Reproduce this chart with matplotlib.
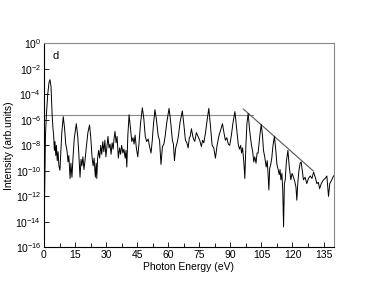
import matplotlib
import numpy as np

matplotlib.use("Agg")
import matplotlib.pyplot as plt  # noqa: E402

plt.rcParams["font.family"] = ["Liberation Sans", "DejaVu Sans"]
plt.rcParams["mathtext.fontset"] = "custom"
plt.rcParams["mathtext.rm"] = "Liberation Sans"
plt.rcParams["mathtext.it"] = "Liberation Sans:italic"
plt.rcParams["mathtext.default"] = "regular"

# photon energy (eV) and log10 intensity
energy = [
    0.0, 0.2, 0.4, 0.7, 1.2, 1.8, 2.4, 2.9, 3.4, 3.9, 4.3, 4.7, 5.0, 5.3,
    5.7, 6.0, 6.4, 6.8, 7.2, 7.7, 8.1, 8.6, 9.3, 9.9, 10.5, 11.1, 11.6,
    12.0, 12.6, 13.0, 13.5, 14.0, 14.6, 15.6, 16.3, 16.8, 17.4, 17.9, 18.3,
    18.8, 19.3, 19.8, 20.4, 21.2, 22.0, 22.6, 23.2, 23.7, 24.2, 24.8, 25.2,
    25.5, 25.9, 26.4, 26.9, 27.4, 27.9, 28.4, 28.9, 29.4, 29.9, 30.4, 30.9,
    31.4, 31.9, 32.4, 32.9, 33.4, 33.8, 34.3, 34.8, 35.3, 35.9, 36.5, 37.0,
    37.5, 38.1, 38.6, 39.2, 39.6, 40.0, 40.5, 41.1, 41.7, 42.4, 43.0, 43.5,
    44.0, 44.6, 45.3, 45.9, 46.6, 47.5, 48.2, 48.9, 49.6, 50.3, 51.0, 51.7,
    52.3, 52.9, 53.6, 54.3, 55.2, 55.8, 56.5, 57.2, 57.9, 58.5, 59.3, 60.4,
    61.2, 62.0, 62.5, 63.0, 63.6, 64.3, 64.9, 65.7, 66.8, 67.5, 68.3, 69.0,
    69.6, 70.2, 70.6, 71.2, 72.0, 72.8, 73.6, 74.4, 75.2, 76.0, 76.6, 77.2,
    78.0, 78.8, 79.6, 80.4, 81.2, 82.0, 82.8, 83.6, 84.4, 85.3, 86.2, 86.9,
    87.6, 88.3, 89.0, 89.7, 90.5, 91.3, 92.2, 93.0, 93.8, 94.4, 95.0, 95.4,
    95.9, 96.5, 97.0, 97.5, 98.0, 98.6, 99.3, 100.2, 100.8, 101.3, 101.8,
    102.4, 102.9, 103.4, 104.2, 104.9, 105.5, 106.0, 106.6, 107.3, 107.8,
    108.2, 108.6, 109.0, 109.5, 110.0, 110.6, 111.3, 111.9, 112.5, 113.1,
    113.6, 114.0, 114.4, 114.9, 115.3, 115.7, 116.1, 116.5, 117.1, 117.8,
    118.4, 119.2, 119.8, 120.5, 121.2, 121.7, 122.1, 122.6, 123.1, 123.7,
    124.2, 124.8, 125.3, 126.1, 126.9, 127.7, 128.6, 129.4, 130.2, 131.0,
    131.8, 132.5, 133.1, 133.9, 135.0, 135.8, 136.6, 137.0, 137.4, 138.0,
    139.0, 139.8,
]
log_intensity = [
    -14.2, -13.0, -10.5, -7.3, -5.5, -4.0, -3.1, -2.85, -3.4, -5.5, -6.6,
    -7.3, -8.4, -7.7, -8.8, -8.0, -9.2, -8.5, -9.6, -9.95, -8.6, -7.0,
    -5.75, -6.6, -7.9, -8.4, -9.3, -8.8, -10.6, -9.4, -10.5, -9.0, -7.5,
    -6.3, -7.3, -8.6, -10.5, -9.1, -9.6, -8.9, -9.9, -9.2, -8.2, -7.0,
    -6.4, -7.4, -8.9, -9.6, -9.0, -10.5, -9.4, -10.6, -9.0, -8.4, -9.0,
    -8.0, -8.7, -7.7, -8.5, -7.6, -8.9, -8.1, -7.3, -8.2, -7.9, -8.7,
    -7.8, -8.3, -7.5, -6.9, -7.8, -7.3, -9.0, -8.2, -8.7, -8.0, -8.6,
    -8.3, -9.0, -8.4, -9.7, -7.2, -5.6, -6.6, -7.7, -7.4, -7.9, -7.2,
    -8.2, -8.9, -7.8, -6.3, -5.05, -5.9, -7.3, -7.7, -7.5, -8.1, -8.6,
    -7.6, -6.3, -5.2, -6.0, -7.3, -7.6, -9.5, -8.1, -7.9, -7.3, -6.2,
    -5.1, -6.2, -7.6, -7.9, -9.2, -8.2, -7.8, -7.3, -6.2, -5.3, -6.3,
    -7.6, -7.8, -8.2, -7.4, -7.3, -6.7, -7.4, -7.7, -7.0, -7.3, -7.6,
    -8.1, -7.6, -7.8, -7.0, -6.0, -5.1, -6.5, -8.0, -8.2, -9.0, -8.0,
    -7.3, -6.8, -6.3, -7.0, -7.6, -7.4, -7.9, -8.0, -7.2, -6.2, -5.35,
    -6.6, -7.9, -8.3, -8.0, -8.6, -8.2, -9.3, -10.6, -8.0, -6.3, -5.5,
    -6.8, -8.0, -8.5, -9.3, -8.9, -9.4, -8.6, -8.6, -7.3, -6.35, -7.2,
    -8.4, -8.9, -9.7, -9.2, -10.2, -11.5, -9.8, -9.5, -9.0, -8.0, -7.3,
    -8.3, -9.5, -9.9, -10.3, -9.9, -10.7, -10.2, -11.5, -14.4, -11.0,
    -10.7, -9.2, -8.4, -9.6, -10.7, -10.2, -10.5, -10.9, -11.3, -12.3,
    -10.9, -10.0, -9.4, -9.3, -10.1, -10.7, -10.5, -11.0, -10.6, -10.4,
    -10.6, -10.1, -10.5, -11.0, -10.9, -11.4, -11.0, -10.7, -10.6, -10.4,
    -11.2, -12.0, -11.0, -10.7, -10.4,
]

# guide lines: plateau level and cutoff slope
plateau_x = [0.0, 101.0]
plateau_log = [-5.6, -5.6]
cutoff_x = [96.3, 130.0]
cutoff_log = [-5.15, -10.0]

x_ticks = [0, 15, 30, 45, 60, 75, 90, 105, 120, 135]
y_exponents = [0, -2, -4, -6, -8, -10, -12, -14, -16]


def main():
    fig = plt.figure(figsize=(3.76, 2.91), dpi=100)
    ax = fig.add_axes([0.117, 0.150, 0.771, 0.701])

    ax.semilogy(plateau_x, 10.0 ** np.array(plateau_log), color="#8a8a8a",
                lw=0.8)
    ax.semilogy(cutoff_x, 10.0 ** np.array(cutoff_log), color="#555555",
                lw=0.8)
    ax.semilogy(energy, 10.0 ** np.array(log_intensity), color="black",
                lw=0.7)

    ax.set_xlim(0, 140)
    ax.set_ylim(1e-16, 1)
    ax.set_xticks(x_ticks)
    ax.set_xticks(np.array(x_ticks[:-1]) + 7.5, minor=True)
    ax.set_yticks([10.0 ** e for e in y_exponents])
    ax.set_yticklabels([f"$10^{{{e}}}$" for e in y_exponents])
    ax.yaxis.set_minor_locator(matplotlib.ticker.NullLocator())
    ax.tick_params(which="both", direction="in", labelsize=7.5, pad=2,
                   top=False, right=False)
    ax.tick_params(which="major", length=3.5, width=0.6)
    ax.tick_params(which="minor", length=3, width=0.6)

    for side in ("top", "right"):
        ax.spines[side].set_color("#888888")
    for spine in ax.spines.values():
        spine.set_linewidth(0.8)

    ax.set_xlabel("Photon Energy (eV)", fontsize=7.5, labelpad=1)
    ax.set_ylabel("Intensity (arb.units)", fontsize=7.5, labelpad=1)
    ax.text(0.03, 0.94, "d", transform=ax.transAxes, fontsize=8,
            va="center", ha="left")

    fig.savefig("out.png", dpi=100)


if __name__ == "__main__":
    main()
